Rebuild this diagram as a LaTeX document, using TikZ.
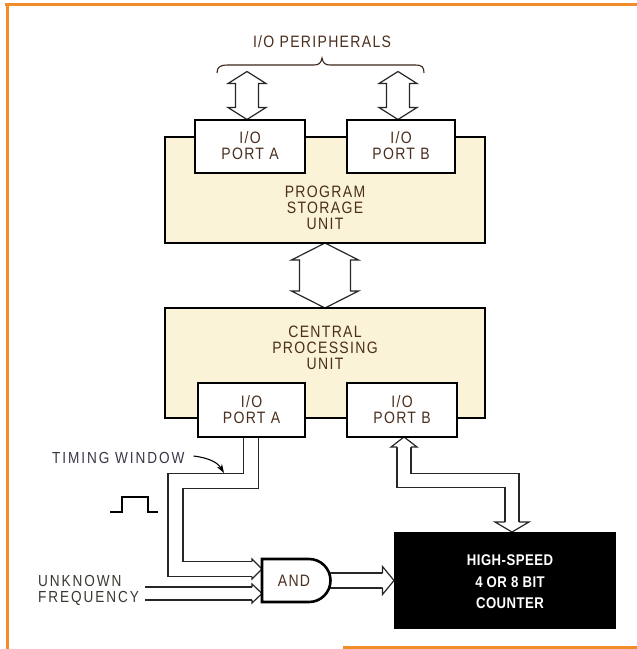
\documentclass[tikz,border=0pt]{standalone}
\usepackage{fontspec}
\setmainfont{Liberation Sans}[FakeStretch=0.85,LetterSpace=8]
\usetikzlibrary{calc,arrows.meta}
\pgfdeclarelayer{bg}
\pgfsetlayers{bg,main}
\definecolor{frameor}{HTML}{F28C28}
\definecolor{cream}{HTML}{FBF3D8}
\definecolor{txtbr}{HTML}{4A2E1E}
\definecolor{txtgr}{HTML}{383A32}
\definecolor{txtbl}{HTML}{3A3646}
\newcommand\boxfont{\fontsize{16.5}{16}\selectfont}
\newcommand\outfont{\fontsize{16}{16}\selectfont\addfontfeature{LetterSpace=12}}
\newcommand\ctrfont{\fontsize{15.5}{21.5}\selectfont\bfseries\addfontfeature{LetterSpace=3}}
\tikzset{
  framel/.style={draw=frameor, line width=3pt},
  unitbox/.style={draw=black, line width=2.8pt, fill=cream, minimum width=320pt, inner sep=0pt, outer sep=0pt},
  portbox/.style={draw=black, line width=2pt, fill=white, inner sep=0pt, outer sep=0pt, minimum height=53pt, text=txtbr, align=center, font=\boxfont},
  boxtext/.style={text=txtbr, align=center, font=\boxfont, inner sep=0pt},
  hol/.style={draw=black!85, line width=1.2pt, fill=white, line join=miter},
  hshaft/.style={draw=black!85, line width=1.2pt, double=white, double distance=#1, line join=miter},
  gate/.style={draw=black, line width=2.6pt, fill=white},
  ptr/.style={draw=black, line width=1.1pt, -{Stealth[length=9pt,width=6pt]}}
}
% vertical double hollow arrow: #1 top tip, #2 bottom tip, #3 shaft half width, #4 wing half width, #5 head length
\newcommand\vdblarrow[5]{%
  \filldraw[hol] let \p1=(#1), \p2=(#2) in
   (\x1,\y1) -- (\x1+#4pt,\y1-#5pt) -- (\x1+#3pt,\y1-#5pt) -- (\x1+#3pt,\y2+#5pt)
   -- (\x1+#4pt,\y2+#5pt) -- (\x1,\y2) -- (\x1-#4pt,\y2+#5pt) -- (\x1-#3pt,\y2+#5pt)
   -- (\x1-#3pt,\y1-#5pt) -- (\x1-#4pt,\y1-#5pt) -- cycle;}
% horizontal head: #1 base, #2 tip, #3 shaft half width, #4 wing half width
\newcommand\hhead[4]{%
  \filldraw[hol] ($(#1)+(0,-#3)$) -- ($(#1)+(0,-#4)$) -- (#2) -- ($(#1)+(0,#4)$) -- ($(#1)+(0,#3)$);}
\newcommand\vhead[4]{%
  \filldraw[hol] ($(#1)+(-#3,0)$) -- ($(#1)+(-#4,0)$) -- (#2) -- ($(#1)+(#4,0)$) -- ($(#1)+(#3,0)$);}
\begin{document}
\begin{tikzpicture}[x=1pt,y=-1pt]
\useasboundingbox (0,0) rectangle (637,649);
% orange frame
\draw[framel] (5,4.5) -- (637,4.5);
\draw[framel] (7,3) -- (7,649);
\draw[framel] (343,647.5) -- (637,647.5);

% units
\node[unitbox, minimum height=106pt] (psu) at (325,190) {};
\node[portbox, minimum width=110pt] (psuA) at (250,146) {I/O\\PORT A};
\node[portbox, minimum width=108pt] (psuB) at (401,146) {I/O\\PORT B};
\node[boxtext] (psut) at (325,208) {PROGRAM\\STORAGE\\UNIT};

\node[unitbox, minimum height=110pt] (cpu) at (325,363) {};
\node[boxtext] (cput) at (325,347.5) {CENTRAL\\PROCESSING\\UNIT};
\node[portbox, minimum width=107pt, minimum height=54pt] (cpuA) at (251.5,410) {I/O\\PORT A};
\node[portbox, minimum width=110pt, minimum height=54pt] (cpuB) at (402,410) {I/O\\PORT B};

% counter
\node[draw=black, fill=black, minimum width=221pt, minimum height=96pt, inner sep=0pt, outer sep=0pt] (ctr) at (504.5,580) {};
\node[text=white, font=\ctrfont, align=center, inner sep=0pt] (ctrt) at (510,582) {HIGH-SPEED\\4 OR 8 BIT\\COUNTER};

% AND gate
\node[minimum width=68.5pt, minimum height=43pt, inner sep=0pt, outer sep=0pt, anchor=west] (andg) at (262,580.5) {};
\draw[gate] (andg.north west) -- ++(47,0) arc[start angle=90, end angle=-90, radius=21.5pt] -- (andg.south west) -- cycle;
\node[text=txtbr, font=\boxfont, inner sep=0pt] (andt) at (294,581) {AND};

% labels
\node[text=txtbr, font=\boxfont, inner sep=0pt] (periph) at (322,42) {I/O PERIPHERALS};
\node[text=txtbl, font=\outfont, anchor=west, inner sep=0pt] (tw) at (52,458) {TIMING WINDOW};
\node[text=txtgr, font=\outfont, anchor=west, align=left, inner sep=0pt] (uk) at (38,590) {UNKNOWN\\FREQUENCY};

% brace
\draw[draw=txtbr!80!black, line width=1.1pt] (217,73) .. controls (217,67) and (220,65) .. (228,65) -- (314,65)
  .. controls (319,65) and (321,63) .. (322,58) .. controls (323,63) and (325,65) .. (330,65) -- (415,65)
  .. controls (422,65) and (424,67) .. (424,73);

% pulse
\draw[line width=2pt] (110,512) -- (122,512) -- (122,497) -- (148,497) -- (148,512) -- (158,512);

% coordinates for connectors
\coordinate (paT) at ($(psuA.north)+(-3,-48)$);
\coordinate (paB) at ($(psuA.north)+(-3,0)$);
\coordinate (pbT) at ($(psuB.north)+(-3,-48)$);
\coordinate (pbB) at ($(psuB.north)+(-3,0)$);

\coordinate (ta0) at ($(cpuA.south)+(-0.5,1)$);
\coordinate (tbend) at (175.5,481);
\coordinate (thb) at (252,569);
\coordinate (tht) at (andg.west |- thb);

\coordinate (uf0) at (145,593.5);
\coordinate (ufb) at (252,593.5);
\coordinate (uft) at (andg.west |- ufb);

\coordinate (oht) at (ctr.west |- andg.east);
\coordinate (ohb) at ($(oht)+(-11.5,0)$);

\coordinate (pbt) at ($(cpuB.south)+(2,0)$);
\coordinate (pbb) at ($(pbt)+(0,10)$);
\coordinate (cbt) at ($(ctr.north)+(7.5,0)$);
\coordinate (cbb) at ($(cbt)+(0,-10)$);
\coordinate (pbend) at ($(cbb)+(0,-41.5)$);

\coordinate (twstart) at ($(tw.east)+(9,-2)$);
\coordinate (twtip) at (224,473);

\begin{pgfonlayer}{bg}
  % peripherals
  \vdblarrow{paT}{paB}{11.5}{19}{12}
  \vdblarrow{pbT}{pbB}{11.5}{19}{12}
  % PSU <-> CPU
  \vdblarrow{psu.south}{cpu.north}{25.5}{33.5}{17}
  % timing window
  \draw[hshaft=13.8pt] (ta0) |- (tbend) |- (thb);
  \hhead{thb}{tht}{7.5}{10}
  % unknown frequency
  \draw[hshaft=11.8pt] (uf0) -- (ufb);
  \hhead{ufb}{uft}{6.5}{9.5}
  % AND -> counter
  \draw[hshaft=13.8pt] ($(andg.east)+(-5,0)$) -- (ohb);
  \hhead{ohb}{oht}{7.5}{14}
  % port B <-> counter
  \draw[hshaft=12.8pt] (pbb) |- (pbend) -- (cbb);
  \vhead{pbb}{pbt}{7}{13}
  \vhead{cbb}{cbt}{7}{17}
\end{pgfonlayer}

% timing window pointer
\draw[ptr] (twstart) .. controls (210,458) and (218,463) .. (twtip);
\end{tikzpicture}
\end{document}
